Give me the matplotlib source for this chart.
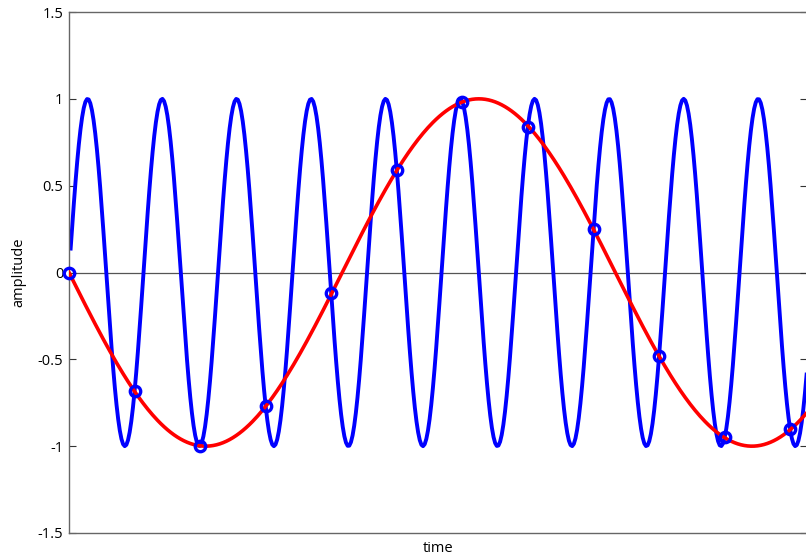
import numpy as np
import matplotlib
matplotlib.use("Agg")
import matplotlib.pyplot as plt

# --- data ---
signal_freq = 22.0      # Hz, blue signal
sample_rate = 25.0      # Hz, sampling rate
alias_freq = sample_rate - signal_freq  # Hz, red alias
t_end = 0.45
t_step = 0.001
# sample values
sample_values = [0.0, -0.68, -1.0, -0.77, -0.12, 0.59, 0.98, 0.84, 0.25, -0.48, -0.95, -0.90]
ytick_values = [-1.5, -1, -0.5, 0, 0.5, 1, 1.5]
ytick_labels = ["-1.5", "-1", "-0.5", "0", "0.5", "1", "1.5"]

t = np.arange(t_step, t_end + t_step / 2, t_step)
blue = np.sin(2 * np.pi * signal_freq * t)
t_red = np.arange(0, t_end + t_step / 2, t_step)
red = -np.sin(2 * np.pi * alias_freq * t_red)
t_samples = np.arange(len(sample_values)) / sample_rate

plt.rcParams['font.family'] = ['Open Sans', 'DejaVu Sans']
plt.rcParams['axes.unicode_minus'] = False

fig = plt.figure(figsize=(8.06, 5.57), dpi=100)
ax = fig.add_axes([69 / 806, 1 - 533 / 557, (806.6 - 69) / 806, (533 - 12) / 557])

ax.axhline(0, color='#555555', lw=0.9, zorder=1)
ax.plot(t, blue, color='#0000ff', lw=2.8, zorder=2)
ax.plot(t_red, red, color='#ff0000', lw=2.6, zorder=3)
ax.plot(t_samples, sample_values, linestyle='none', marker='o', ms=7.5,
        mfc='none', mec='#0000ff', mew=2.4, zorder=4, clip_on=False)

ax.set_xlim(0, t_end)
ax.set_ylim(-1.5, 1.5)
ax.set_xticks([])
ax.set_yticks(ytick_values)
ax.set_yticklabels(ytick_labels, fontsize=10.5)
ax.tick_params(axis='y', direction='in', length=5, width=0.8, color='#333333',
               right=True, pad=4)
for s in ax.spines.values():
    s.set_color('#666666')
    s.set_linewidth(1.0)

ax.set_xlabel('time', fontsize=10.5, labelpad=6)
ax.set_ylabel('amplitude', fontsize=10.5, labelpad=8)

fig.savefig('out.png', dpi=100)
